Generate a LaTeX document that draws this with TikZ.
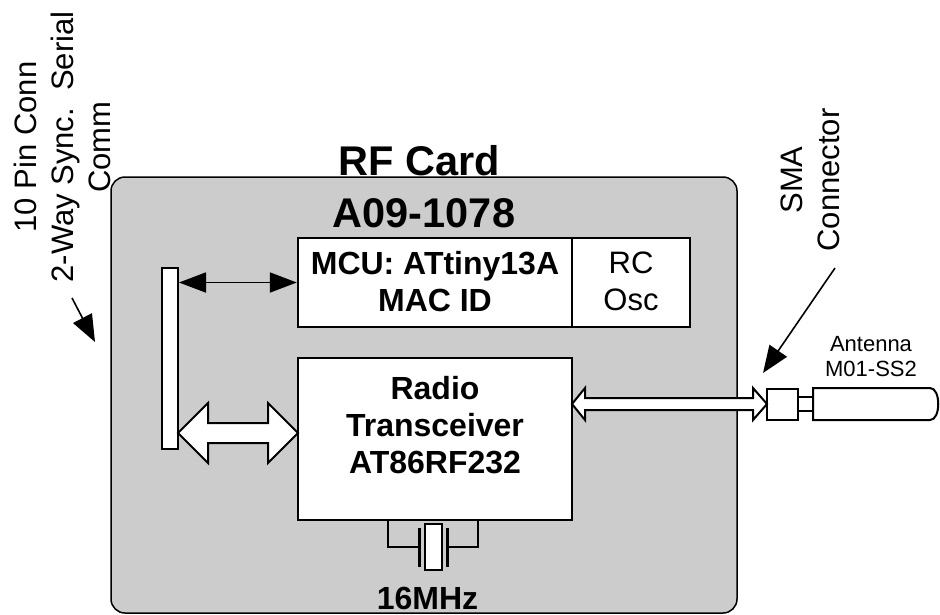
\documentclass[tikz,border=0pt]{standalone}
\usepackage{fontspec}
\setmainfont{Liberation Sans}
\usetikzlibrary{arrows.meta,calc}
\definecolor{cardgray}{HTML}{CCCCCC}
\tikzset{
  blk/.style={draw=black,line width=2.4pt,fill=white,inner sep=0pt},
  boxtxt/.style={font=\fontsize{32}{37}\selectfont\bfseries,align=center,inner sep=0pt},
  plaintxt/.style={font=\fontsize{31}{37}\selectfont,align=center,inner sep=0pt},
  ptr/.style={line width=1.6pt,-{Triangle[length=27pt,width=21pt]}},
  dbl/.style={line width=1.8pt,{Triangle[length=27pt,width=20pt]}-{Triangle[length=27pt,width=20pt]}},
  hollow/.style={draw=black,line width=2pt,fill=white,line join=miter},
}
\begin{document}
\begin{tikzpicture}[x=1pt,y=-1pt]
\useasboundingbox (0,0) rectangle (940,614);
% card
\node[draw=black,line width=1.5pt,fill=cardgray,rounded corners=14pt,minimum width=626pt,minimum height=436pt,inner sep=0pt] (card) at (424,395) {};
\node[font=\fontsize{41.5}{48}\selectfont\bfseries,inner sep=0pt] (title) at (419,161) {RF Card};
\node[font=\fontsize{41.5}{48}\selectfont\bfseries,inner sep=0pt] (pn) at (424,213) {A09-1078};
% connector bar
\node[blk,line width=2pt,minimum width=16pt,minimum height=181pt] (bar) at (170,358.5) {};
% MCU
\node[blk,minimum width=274pt,minimum height=89pt] (mcu) at (435,282.5) {};
\node[boxtxt] (mcut) at (435,281.5) {MCU: ATtiny13A\\MAC ID};
\node[blk,minimum width=118pt,minimum height=89pt] (rc) at (631,282.5) {};
\node[plaintxt] (rct) at (631,281.5) {RC\\Osc};
% radio
\node[blk,minimum width=274pt,minimum height=162pt] (radio) at (435,439) {};
\node[boxtxt] (radiot) at (435,425) {Radio\\Transceiver\\AT86RF232};
% bar <-> MCU
\draw[dbl] (bar.east |- mcu.west) -- (mcu.west);
% bar <-> radio block arrow
\draw[hollow] (178,433) -- (208,403) -- (208,423) -- (268,423) -- (268,403) -- (298,433)
  -- (268,463) -- (268,443) -- (208,443) -- (208,463) -- cycle;
% crystal
\coordinate (xl) at (388,520);
\coordinate (xr) at (478,520);
\draw[line width=1.5pt] (xl) -- (388,547) -- (419,547);
\draw[line width=1.5pt] (xr) -- (478,547) -- (447,547);
\draw[line width=3pt] (419,528) -- (419,567);
\draw[line width=3pt] (447,528) -- (447,567);
\node[draw=black,line width=2pt,fill=white,minimum width=17pt,minimum height=46pt,inner sep=0pt] (xtal) at (433.5,547) {};
\node[boxtxt] (freq) at (427.5,598) {16MHz};
% SMA + antenna
\node[draw=black,line width=2pt,fill=white,minimum width=31pt,minimum height=31pt,inner sep=0pt] (sma) at (782.5,404) {};
\draw[line width=2pt,fill=white] (798,397) rectangle (813,411);
\draw[line width=2pt,fill=white] (813,388) -- (930,388) .. controls (941,388) and (941,420) .. (930,420) -- (813,420) -- cycle;
\node[font=\fontsize{22}{25}\selectfont,align=center,inner sep=0pt] (ant) at (871,357) {Antenna\\M01-SS2};
% radio <-> SMA hollow arrow
\draw[hollow] (572,404) -- (585,388) -- (585,398) -- (753,398) -- (753,388) -- (767,404)
  -- (753,420) -- (753,410) -- (585,410) -- (585,420) -- cycle;
% labels
\node[plaintxt,rotate=90] (conn) at (62,147) {10 Pin Conn\\2-Way Sync.\ \ Serial\\Comm};
\coordinate (connarr) at (72,298);
\draw[ptr] (connarr) -- (95,342);
\node[plaintxt,rotate=90] (smat) at (810,180) {SMA\\Connector};
\coordinate (smaarr) at (835,268);
\draw[ptr] (smaarr) -- (763,373);
\end{tikzpicture}
\end{document}
